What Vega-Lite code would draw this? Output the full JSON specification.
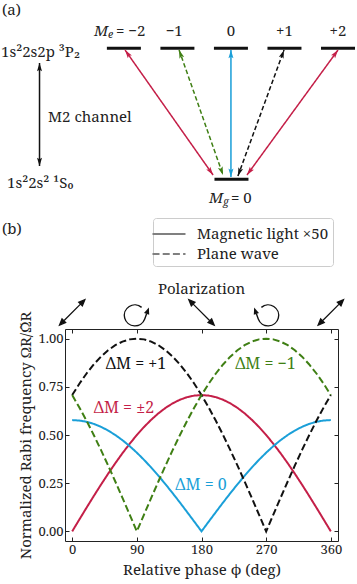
{
  "$schema": "https://vega.github.io/schema/vega-lite/v6.json",
  "width": 273,
  "height": 212,
  "autosize": {"type": "none"},
  "padding": {"left": 65, "top": 329, "right": 19, "bottom": 43},
  "background": "white",
  "config": {
    "view": {"stroke": "#222222", "strokeWidth": 1},
    "font": "Noto Serif",
    "text": {"font": "Noto Serif", "fontSize": 15, "color": "#222222"},
    "axis": {
      "grid": false, "domain": false,
      "labelFont": "Noto Serif", "titleFont": "Noto Serif",
      "labelFontSize": 13, "titleFontSize": 15, "titleFontWeight": "normal",
      "labelColor": "#222222", "titleColor": "#222222", "tickColor": "#222222",
      "tickSize": -4, "labelPadding": 6, "labelFlush": false, "labelOverlap": false
    }
  },
  "datasets": {
    "rabi": [
      {"phi": 0, "pm2": 0, "zero": 0.5774, "p1": 0.7071, "m1": 0.7071},
      {"phi": 10, "pm2": 0.0616, "zero": 0.5752, "p1": 0.766, "m1": 0.6428},
      {"phi": 20, "pm2": 0.1228, "zero": 0.5686, "p1": 0.8192, "m1": 0.5736},
      {"phi": 30, "pm2": 0.183, "zero": 0.5577, "p1": 0.866, "m1": 0.5},
      {"phi": 40, "pm2": 0.2418, "zero": 0.5426, "p1": 0.9063, "m1": 0.4226},
      {"phi": 50, "pm2": 0.2988, "zero": 0.5233, "p1": 0.9397, "m1": 0.342},
      {"phi": 60, "pm2": 0.3536, "zero": 0.5, "p1": 0.9659, "m1": 0.2588},
      {"phi": 70, "pm2": 0.4056, "zero": 0.473, "p1": 0.9848, "m1": 0.1736},
      {"phi": 80, "pm2": 0.4545, "zero": 0.4423, "p1": 0.9962, "m1": 0.0872},
      {"phi": 90, "pm2": 0.5, "zero": 0.4083, "p1": 1, "m1": 0},
      {"phi": 100, "pm2": 0.5417, "zero": 0.3711, "p1": 0.9962, "m1": 0.0872},
      {"phi": 110, "pm2": 0.5792, "zero": 0.3312, "p1": 0.9848, "m1": 0.1736},
      {"phi": 120, "pm2": 0.6124, "zero": 0.2887, "p1": 0.9659, "m1": 0.2588},
      {"phi": 130, "pm2": 0.6409, "zero": 0.244, "p1": 0.9397, "m1": 0.342},
      {"phi": 140, "pm2": 0.6645, "zero": 0.1975, "p1": 0.9063, "m1": 0.4226},
      {"phi": 150, "pm2": 0.683, "zero": 0.1494, "p1": 0.866, "m1": 0.5},
      {"phi": 160, "pm2": 0.6964, "zero": 0.1002, "p1": 0.8192, "m1": 0.5736},
      {"phi": 170, "pm2": 0.7044, "zero": 0.0503, "p1": 0.766, "m1": 0.6428},
      {"phi": 180, "pm2": 0.7071, "zero": 0, "p1": 0.7071, "m1": 0.7071},
      {"phi": 190, "pm2": 0.7044, "zero": 0.0503, "p1": 0.6428, "m1": 0.766},
      {"phi": 200, "pm2": 0.6964, "zero": 0.1002, "p1": 0.5736, "m1": 0.8192},
      {"phi": 210, "pm2": 0.683, "zero": 0.1494, "p1": 0.5, "m1": 0.866},
      {"phi": 220, "pm2": 0.6645, "zero": 0.1975, "p1": 0.4226, "m1": 0.9063},
      {"phi": 230, "pm2": 0.6409, "zero": 0.244, "p1": 0.342, "m1": 0.9397},
      {"phi": 240, "pm2": 0.6124, "zero": 0.2887, "p1": 0.2588, "m1": 0.9659},
      {"phi": 250, "pm2": 0.5792, "zero": 0.3312, "p1": 0.1736, "m1": 0.9848},
      {"phi": 260, "pm2": 0.5417, "zero": 0.3711, "p1": 0.0872, "m1": 0.9962},
      {"phi": 270, "pm2": 0.5, "zero": 0.4083, "p1": 0, "m1": 1},
      {"phi": 280, "pm2": 0.4545, "zero": 0.4423, "p1": 0.0872, "m1": 0.9962},
      {"phi": 290, "pm2": 0.4056, "zero": 0.473, "p1": 0.1736, "m1": 0.9848},
      {"phi": 300, "pm2": 0.3536, "zero": 0.5, "p1": 0.2588, "m1": 0.9659},
      {"phi": 310, "pm2": 0.2988, "zero": 0.5233, "p1": 0.342, "m1": 0.9397},
      {"phi": 320, "pm2": 0.2418, "zero": 0.5426, "p1": 0.4226, "m1": 0.9063},
      {"phi": 330, "pm2": 0.183, "zero": 0.5577, "p1": 0.5, "m1": 0.866},
      {"phi": 340, "pm2": 0.1228, "zero": 0.5686, "p1": 0.5736, "m1": 0.8192},
      {"phi": 350, "pm2": 0.0616, "zero": 0.5752, "p1": 0.6428, "m1": 0.766},
      {"phi": 360, "pm2": 0, "zero": 0.5774, "p1": 0.7071, "m1": 0.7071}
    ],
    "kinds": [
      {"series": "pm2", "type": "Magnetic light ×50"},
      {"series": "zero", "type": "Magnetic light ×50"},
      {"series": "p1", "type": "Plane wave"},
      {"series": "m1", "type": "Plane wave"}
    ],
    "dmlabels": [
      {"phi": 88.8, "v": 0.868, "text": "ΔM = +1", "series": "p1"},
      {"phi": 269, "v": 0.868, "text": "ΔM = −1", "series": "m1"},
      {"phi": 72, "v": 0.641, "text": "ΔM = ±2", "series": "pm2"},
      {"phi": 179.3, "v": 0.24, "text": "ΔM = 0", "series": "zero"}
    ],
    "pol": [
      {"phi": 0, "kind": "lin1"},
      {"phi": 90, "kind": "ccw"},
      {"phi": 180, "kind": "lin2"},
      {"phi": 270, "kind": "cw"},
      {"phi": 360, "kind": "lin1"}
    ],
    "levels": [
      {"u": -2, "E": 1}, {"u": -1, "E": 1}, {"u": 0, "E": 1},
      {"u": 1, "E": 1}, {"u": 2, "E": 1}, {"u": 0.01, "E": 0}
    ],
    "arrows": [
      {"arrow": "-2", "end": "bottom", "u": -0.334, "E": 0.033},
      {"arrow": "-2", "end": "top", "u": -1.978, "E": 0.987},
      {"arrow": "-1", "end": "bottom", "u": -0.148, "E": 0.033},
      {"arrow": "-1", "end": "top", "u": -0.969, "E": 0.987},
      {"arrow": "0", "end": "bottom", "u": 0.0, "E": 0.018},
      {"arrow": "0", "end": "top", "u": 0.0, "E": 0.987},
      {"arrow": "+1", "end": "bottom", "u": 0.13, "E": 0.025},
      {"arrow": "+1", "end": "top", "u": 0.992, "E": 0.987},
      {"arrow": "+2", "end": "bottom", "u": 0.3, "E": 0.033},
      {"arrow": "+2", "end": "top", "u": 2.0, "E": 0.987},
      {"arrow": "M2", "end": "bottom", "u": -3.576, "E": 0.1015},
      {"arrow": "M2", "end": "top", "u": -3.576, "E": 0.888}
    ],
    "dtext": [
      {"u": -4.276, "E": 1.292, "text": "(a)"},
      {"u": -4.276, "E": -0.379, "text": "(b)"},
      {"u": -4.295, "E": 0.972, "text": "1s²2s2p ³P₂"},
      {"u": -4.183, "E": -0.028, "text": "1s²2s² ¹S₀"},
      {"u": -3.417, "E": 0.4756, "text": "M2 channel"}
    ],
    "lvl": [
      {"u": -1.06, "E": 1.132, "text": "−1"},
      {"u": 0, "E": 1.132, "text": "0"},
      {"u": 1.0, "E": 1.132, "text": "+1"},
      {"u": 2.0, "E": 1.132, "text": "+2"}
    ],
    "msub": [
      {"u": -2.146, "E": 1.132, "main": "M", "sub": "e", "rest": "= −2"},
      {"u": 0.002, "E": -0.143, "main": "M", "sub": "g", "rest": "= 0"}
    ]
  },
  "layer": [
    {
      "layer": [
        {
          "data": {"name": "rabi"},
          "transform": [
            {"fold": ["pm2", "zero", "p1", "m1"], "as": ["series", "v"]},
            {"lookup": "series", "from": {"data": {"name": "kinds"}, "key": "series", "fields": ["type"]}}
          ],
          "mark": {"type": "line", "strokeWidth": 2, "clip": false},
          "encoding": {
            "x": {"field": "phi", "type": "quantitative", "scale": {"domain": [-10, 370], "nice": false, "zero": false},
                  "axis": {"orient": "bottom", "values": [0, 90, 180, 270, 360], "title": "Relative phase ϕ (deg)", "titlePadding": 6}},
            "y": {"field": "v", "type": "quantitative", "scale": {"domain": [-0.05, 1.05], "nice": false, "zero": false},
                  "axis": {"orient": "left", "values": [0, 0.25, 0.5, 0.75, 1], "format": ".2f", "title": "Normalized Rabi frequency ΩR/Ω̃R", "titlePadding": 4}},
            "color": {"field": "series", "type": "nominal",
                      "scale": {"domain": ["pm2", "zero", "p1", "m1"], "range": ["#c41f48", "#1a9fd8", "#111111", "#3f7f14"]}, "legend": null},
            "strokeDash": {"field": "type", "type": "nominal",
                           "scale": {"domain": ["Magnetic light ×50", "Plane wave"], "range": [[1, 0], [7, 3.2]]},
                           "legend": {"title": null, "orient": "none", "legendX": 88, "legendY": -111, "padding": 4,
                                      "strokeColor": "#cccccc", "fillColor": "#ffffff", "cornerRadius": 3,
                                      "symbolType": "M-1.5,0L1.5,0", "symbolSize": 484, "symbolStrokeColor": "#808080", "symbolStrokeWidth": 2,
                                      "rowPadding": 0, "labelFont": "Noto Serif", "labelFontSize": 15,
                                      "labelColor": "#222222", "labelOffset": 16, "labelLimit": 300,
                                      "encode": {"symbols": {"update": {"stroke": {"value": "#808080"}, "strokeWidth": {"value": 2}}}}}}
          }
        },
        {
          "data": {"name": "dmlabels"},
          "mark": {"type": "text", "fontSize": 16, "baseline": "middle", "clip": false},
          "encoding": {
            "x": {"field": "phi", "type": "quantitative", "scale": {"domain": [-10, 370], "nice": false, "zero": false},
                  "axis": {"orient": "top", "values": [0, 90, 180, 270, 360], "labels": false, "title": null}},
            "y": {"field": "v", "type": "quantitative", "scale": {"domain": [-0.05, 1.05], "nice": false, "zero": false},
                  "axis": {"orient": "right", "values": [0, 0.25, 0.5, 0.75, 1], "labels": false, "title": null}},
            "text": {"field": "text"},
            "color": {"field": "series", "type": "nominal",
                      "scale": {"domain": ["pm2", "zero", "p1", "m1"], "range": ["#c41f48", "#1a9fd8", "#111111", "#3f7f14"]}, "legend": null}
          }
        },
        {
          "data": {"name": "pol"},
          "transform": [{"filter": "datum.kind == 'lin1'"}],
          "mark": {"type": "point", "shape": "M-0.8,0.8L0.8,-0.8M1.15,-1.15L0.924,-0.598L0.598,-0.924ZM-1.15,1.15L-0.598,0.924L-0.924,0.598Z",
                   "size": 484, "filled": true, "fill": "#111111", "stroke": "#111111", "strokeWidth": 1.3, "opacity": 1, "clip": false},
          "encoding": {
            "x": {"field": "phi", "type": "quantitative", "scale": {"domain": [-10, 370], "nice": false, "zero": false}, "axis": null},
            "y": {"datum": 1.136, "type": "quantitative", "scale": {"domain": [-0.05, 1.05], "nice": false, "zero": false}, "axis": null}
          }
        },
        {
          "data": {"name": "pol"},
          "transform": [{"filter": "datum.kind == 'lin2'"}],
          "mark": {"type": "point", "shape": "M0.8,0.8L-0.8,-0.8M-1.15,-1.15L-0.924,-0.598L-0.598,-0.924ZM1.15,1.15L0.598,0.924L0.924,0.598Z",
                   "size": 484, "filled": true, "fill": "#111111", "stroke": "#111111", "strokeWidth": 1.3, "opacity": 1, "clip": false},
          "encoding": {
            "x": {"field": "phi", "type": "quantitative", "scale": {"domain": [-10, 370], "nice": false, "zero": false}, "axis": null},
            "y": {"datum": 1.136, "type": "quantitative", "scale": {"domain": [-0.05, 1.05], "nice": false, "zero": false}, "axis": null}
          }
        },
        {
          "data": {"name": "pol"},
          "transform": [{"filter": "datum.kind == 'ccw'"}],
          "mark": {"type": "point", "shape": "M0.434,-0.462A0.955,0.955,0,1,0,0.717,0.597L0.888,0.127",
                   "size": 484, "filled": false, "stroke": "#111111", "strokeWidth": 1.4, "opacity": 1, "clip": false},
          "encoding": {
            "x": {"field": "phi", "type": "quantitative", "scale": {"domain": [-10, 370], "nice": false, "zero": false}, "axis": null},
            "y": {"datum": 1.136, "type": "quantitative", "scale": {"domain": [-0.05, 1.05], "nice": false, "zero": false}, "axis": null}
          }
        },
        {
          "data": {"name": "pol"},
          "transform": [{"filter": "datum.kind == 'ccw'"}],
          "mark": {"type": "point", "shape": "M1.093,-0.437L1.123,0.2125L0.653,0.0415Z",
                   "size": 484, "filled": true, "fill": "#111111", "strokeWidth": 0, "opacity": 1, "clip": false},
          "encoding": {
            "x": {"field": "phi", "type": "quantitative", "scale": {"domain": [-10, 370], "nice": false, "zero": false}, "axis": null},
            "y": {"datum": 1.136, "type": "quantitative", "scale": {"domain": [-0.05, 1.05], "nice": false, "zero": false}, "axis": null}
          }
        },
        {
          "data": {"name": "pol"},
          "transform": [{"filter": "datum.kind == 'cw'"}],
          "mark": {"type": "point", "shape": "M-0.434,-0.462A0.955,0.955,0,1,1,-0.717,0.597L-0.888,0.127",
                   "size": 484, "filled": false, "stroke": "#111111", "strokeWidth": 1.4, "opacity": 1, "clip": false},
          "encoding": {
            "x": {"field": "phi", "type": "quantitative", "scale": {"domain": [-10, 370], "nice": false, "zero": false}, "axis": null},
            "y": {"datum": 1.136, "type": "quantitative", "scale": {"domain": [-0.05, 1.05], "nice": false, "zero": false}, "axis": null}
          }
        },
        {
          "data": {"name": "pol"},
          "transform": [{"filter": "datum.kind == 'cw'"}],
          "mark": {"type": "point", "shape": "M-1.093,-0.437L-1.123,0.2125L-0.653,0.0415Z",
                   "size": 484, "filled": true, "fill": "#111111", "strokeWidth": 0, "opacity": 1, "clip": false},
          "encoding": {
            "x": {"field": "phi", "type": "quantitative", "scale": {"domain": [-10, 370], "nice": false, "zero": false}, "axis": null},
            "y": {"datum": 1.136, "type": "quantitative", "scale": {"domain": [-0.05, 1.05], "nice": false, "zero": false}, "axis": null}
          }
        },
        {
          "data": {"values": [{"phi": 180, "text": "Polarization"}]},
          "mark": {"type": "text", "fontSize": 15, "baseline": "middle", "clip": false},
          "encoding": {
            "x": {"field": "phi", "type": "quantitative", "scale": {"domain": [-10, 370], "nice": false, "zero": false}, "axis": null},
            "y": {"datum": 1.26, "type": "quantitative", "scale": {"domain": [-0.05, 1.05], "nice": false, "zero": false}, "axis": null},
            "text": {"field": "text"}
          }
        }
      ],
      "resolve": {"axis": {"x": "independent", "y": "independent"}}
    },
    {
      "layer": [
        {
          "data": {"name": "levels"},
          "mark": {"type": "tick", "orient": "horizontal", "size": 34, "thickness": 3, "color": "#111111", "opacity": 1, "clip": false},
          "encoding": {
            "x": {"field": "u", "type": "quantitative", "scale": {"domain": [-3.1, 2.0], "nice": false, "zero": false}, "axis": null},
            "y": {"field": "E", "type": "quantitative", "scale": {"domain": [-2.761, -1.1427], "nice": false, "zero": false}, "axis": null}
          }
        },
        {
          "data": {"name": "arrows"},
          "mark": {"type": "line", "strokeWidth": 1.5, "clip": false},
          "encoding": {
            "x": {"field": "u", "type": "quantitative", "scale": {"domain": [-3.1, 2.0], "nice": false, "zero": false}, "axis": null},
            "y": {"field": "E", "type": "quantitative", "scale": {"domain": [-2.761, -1.1427], "nice": false, "zero": false}, "axis": null},
            "color": {"field": "arrow", "type": "nominal",
                      "scale": {"domain": ["-2", "-1", "0", "+1", "+2", "M2"], "range": ["#c41f48", "#3f7f14", "#1a9fd8", "#111111", "#c41f48", "#111111"]}, "legend": null},
            "strokeDash": {"field": "arrow", "type": "nominal",
                           "scale": {"domain": ["-2", "-1", "0", "+1", "+2", "M2"], "range": [[1, 0], [4.5, 2.5], [1, 0], [4.5, 2.5], [1, 0], [1, 0]]}, "legend": null}
          }
        },
        {
          "data": {"name": "arrows"},
          "transform": [{"filter": "datum.arrow == '-2'"}],
          "mark": {"type": "point", "angle": -35.15, "filled": true, "size": 70, "opacity": 1, "strokeWidth": 0, "clip": false},
          "encoding": {
            "x": {"field": "u", "type": "quantitative", "scale": {"domain": [-3.1, 2.0], "nice": false, "zero": false}, "axis": null},
            "y": {"field": "E", "type": "quantitative", "scale": {"domain": [-2.761, -1.1427], "nice": false, "zero": false}, "axis": null},
            "color": {"field": "arrow", "type": "nominal",
                      "scale": {"domain": ["-2", "-1", "0", "+1", "+2", "M2"], "range": ["#c41f48", "#3f7f14", "#1a9fd8", "#111111", "#c41f48", "#111111"]}, "legend": null},
            "shape": {"field": "end", "type": "nominal", "scale": {"domain": ["top", "bottom"], "range": ["M0,0L0.6,2L0,1.6L-0.6,2Z", "M0,0L0.6,-2L0,-1.6L-0.6,-2Z"]}, "legend": null}
          }
        },
        {
          "data": {"name": "arrows"},
          "transform": [{"filter": "datum.arrow == '-1'"}],
          "mark": {"type": "point", "angle": -19.37, "filled": true, "size": 70, "opacity": 1, "strokeWidth": 0, "clip": false},
          "encoding": {
            "x": {"field": "u", "type": "quantitative", "scale": {"domain": [-3.1, 2.0], "nice": false, "zero": false}, "axis": null},
            "y": {"field": "E", "type": "quantitative", "scale": {"domain": [-2.761, -1.1427], "nice": false, "zero": false}, "axis": null},
            "color": {"field": "arrow", "type": "nominal",
                      "scale": {"domain": ["-2", "-1", "0", "+1", "+2", "M2"], "range": ["#c41f48", "#3f7f14", "#1a9fd8", "#111111", "#c41f48", "#111111"]}, "legend": null},
            "shape": {"field": "end", "type": "nominal", "scale": {"domain": ["top", "bottom"], "range": ["M0,0L0.6,2L0,1.6L-0.6,2Z", "M0,0L0.6,-2L0,-1.6L-0.6,-2Z"]}, "legend": null}
          }
        },
        {
          "data": {"name": "arrows"},
          "transform": [{"filter": "datum.arrow == '0' || datum.arrow == 'M2'"}],
          "mark": {"type": "point", "angle": 0, "filled": true, "size": 70, "opacity": 1, "strokeWidth": 0, "clip": false},
          "encoding": {
            "x": {"field": "u", "type": "quantitative", "scale": {"domain": [-3.1, 2.0], "nice": false, "zero": false}, "axis": null},
            "y": {"field": "E", "type": "quantitative", "scale": {"domain": [-2.761, -1.1427], "nice": false, "zero": false}, "axis": null},
            "color": {"field": "arrow", "type": "nominal",
                      "scale": {"domain": ["-2", "-1", "0", "+1", "+2", "M2"], "range": ["#c41f48", "#3f7f14", "#1a9fd8", "#111111", "#c41f48", "#111111"]}, "legend": null},
            "shape": {"field": "end", "type": "nominal", "scale": {"domain": ["top", "bottom"], "range": ["M0,0L0.6,2L0,1.6L-0.6,2Z", "M0,0L0.6,-2L0,-1.6L-0.6,-2Z"]}, "legend": null}
          }
        },
        {
          "data": {"name": "arrows"},
          "transform": [{"filter": "datum.arrow == '+1'"}],
          "mark": {"type": "point", "angle": 20.11, "filled": true, "size": 70, "opacity": 1, "strokeWidth": 0, "clip": false},
          "encoding": {
            "x": {"field": "u", "type": "quantitative", "scale": {"domain": [-3.1, 2.0], "nice": false, "zero": false}, "axis": null},
            "y": {"field": "E", "type": "quantitative", "scale": {"domain": [-2.761, -1.1427], "nice": false, "zero": false}, "axis": null},
            "color": {"field": "arrow", "type": "nominal",
                      "scale": {"domain": ["-2", "-1", "0", "+1", "+2", "M2"], "range": ["#c41f48", "#3f7f14", "#1a9fd8", "#111111", "#c41f48", "#111111"]}, "legend": null},
            "shape": {"field": "end", "type": "nominal", "scale": {"domain": ["top", "bottom"], "range": ["M0,0L0.6,2L0,1.6L-0.6,2Z", "M0,0L0.6,-2L0,-1.6L-0.6,-2Z"]}, "legend": null}
          }
        },
        {
          "data": {"name": "arrows"},
          "transform": [{"filter": "datum.arrow == '+2'"}],
          "mark": {"type": "point", "angle": 36.06, "filled": true, "size": 70, "opacity": 1, "strokeWidth": 0, "clip": false},
          "encoding": {
            "x": {"field": "u", "type": "quantitative", "scale": {"domain": [-3.1, 2.0], "nice": false, "zero": false}, "axis": null},
            "y": {"field": "E", "type": "quantitative", "scale": {"domain": [-2.761, -1.1427], "nice": false, "zero": false}, "axis": null},
            "color": {"field": "arrow", "type": "nominal",
                      "scale": {"domain": ["-2", "-1", "0", "+1", "+2", "M2"], "range": ["#c41f48", "#3f7f14", "#1a9fd8", "#111111", "#c41f48", "#111111"]}, "legend": null},
            "shape": {"field": "end", "type": "nominal", "scale": {"domain": ["top", "bottom"], "range": ["M0,0L0.6,2L0,1.6L-0.6,2Z", "M0,0L0.6,-2L0,-1.6L-0.6,-2Z"]}, "legend": null}
          }
        },
        {
          "data": {"name": "dtext"},
          "mark": {"type": "text", "align": "left", "baseline": "middle", "fontSize": 15, "clip": false},
          "encoding": {
            "x": {"field": "u", "type": "quantitative", "scale": {"domain": [-3.1, 2.0], "nice": false, "zero": false}, "axis": null},
            "y": {"field": "E", "type": "quantitative", "scale": {"domain": [-2.761, -1.1427], "nice": false, "zero": false}, "axis": null},
            "text": {"field": "text"}
          }
        },
        {
          "data": {"name": "lvl"},
          "mark": {"type": "text", "align": "center", "baseline": "middle", "fontSize": 15, "clip": false},
          "encoding": {
            "x": {"field": "u", "type": "quantitative", "scale": {"domain": [-3.1, 2.0], "nice": false, "zero": false}, "axis": null},
            "y": {"field": "E", "type": "quantitative", "scale": {"domain": [-2.761, -1.1427], "nice": false, "zero": false}, "axis": null},
            "text": {"field": "text"}
          }
        },
        {
          "data": {"name": "msub"},
          "mark": {"type": "text", "align": "right", "baseline": "middle", "fontSize": 15, "fontStyle": "italic", "dx": -8, "clip": false},
          "encoding": {
            "x": {"field": "u", "type": "quantitative", "scale": {"domain": [-3.1, 2.0], "nice": false, "zero": false}, "axis": null},
            "y": {"field": "E", "type": "quantitative", "scale": {"domain": [-2.761, -1.1427], "nice": false, "zero": false}, "axis": null},
            "text": {"field": "main"}
          }
        },
        {
          "data": {"name": "msub"},
          "mark": {"type": "text", "align": "left", "baseline": "middle", "fontSize": 10.5, "fontStyle": "italic", "dx": -8, "dy": 4, "clip": false},
          "encoding": {
            "x": {"field": "u", "type": "quantitative", "scale": {"domain": [-3.1, 2.0], "nice": false, "zero": false}, "axis": null},
            "y": {"field": "E", "type": "quantitative", "scale": {"domain": [-2.761, -1.1427], "nice": false, "zero": false}, "axis": null},
            "text": {"field": "sub"}
          }
        },
        {
          "data": {"name": "msub"},
          "mark": {"type": "text", "align": "left", "baseline": "middle", "fontSize": 15, "dx": 0, "clip": false},
          "encoding": {
            "x": {"field": "u", "type": "quantitative", "scale": {"domain": [-3.1, 2.0], "nice": false, "zero": false}, "axis": null},
            "y": {"field": "E", "type": "quantitative", "scale": {"domain": [-2.761, -1.1427], "nice": false, "zero": false}, "axis": null},
            "text": {"field": "rest"}
          }
        }
      ]
    }
  ],
  "resolve": {"scale": {"x": "independent", "y": "independent", "color": "independent", "strokeDash": "independent", "shape": "independent"}}
}
